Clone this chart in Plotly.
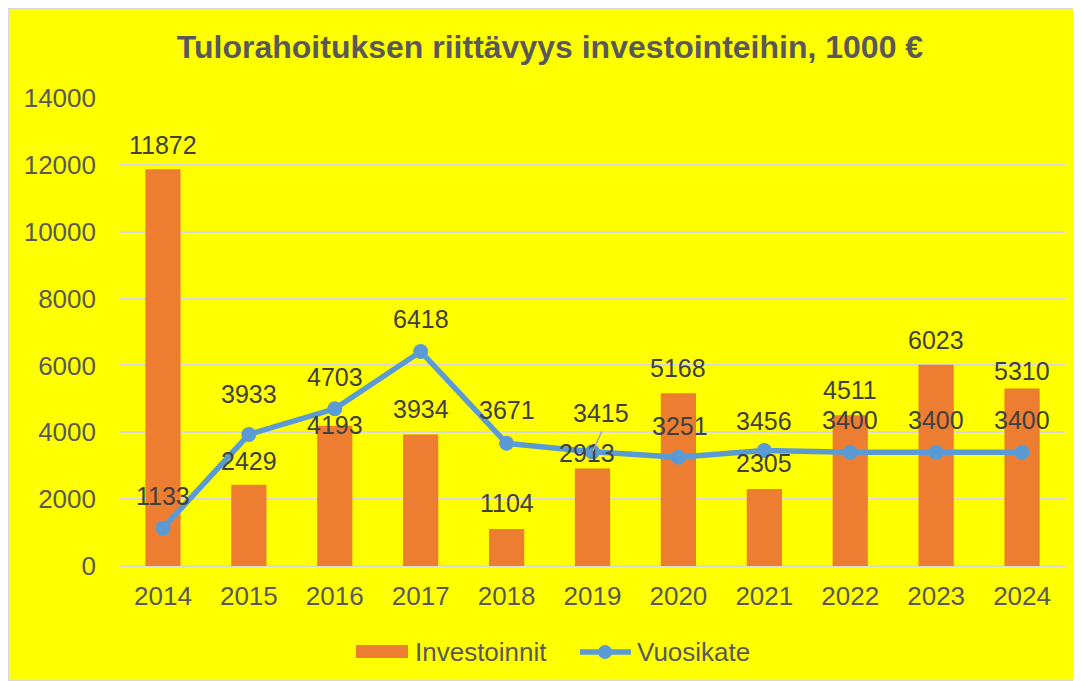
import plotly.graph_objects as go

years = [2014, 2015, 2016, 2017, 2018, 2019, 2020, 2021, 2022, 2023, 2024]
year_labels = ["2014", "2015", "2016", "2017", "2018", "2019", "2020", "2021", "2022", "2023", "2024"]
investoinnit = [11872, 2429, 4193, 3934, 1104, 2913, 5168, 2305, 4511, 6023, 5310]
vuosikate = [1133, 3933, 4703, 6418, 3671, 3415, 3251, 3456, 3400, 3400, 3400]
y_ticks = [0, 2000, 4000, 6000, 8000, 10000, 12000, 14000]
y_tick_labels = ["0", "2000", "4000", "6000", "8000", "10000", "12000", "14000"]
series_names = ["Investoinnit", "Vuosikate"]
title_text = "Tulorahoituksen riittävyys investointeihin, 1000 €"

# label placement (pixels above the value)
bar_label_shift = [24, 24, 1, 25, 26, 16, 25, 26, 25, 25, 17]
bar_label_xshift = [0, 0, 0, 0, 0, -6, 0, 0, 0, 0, 0]
line_label_shift = [32, 41, 32, 32, 33, 39, 31, 29, 32, 32, 32]
line_label_xshift = [0, 0, 0, 0, 0, 8, 2, 0, 0, 0, 0]

ORANGE = "#ED7D31"
BLUE = "#5B9BD5"
YELLOW = "#FFFF00"
TXT = "#404040"
AX = "#595959"
FONT = "Liberation Sans, Arial, sans-serif"

OFF = 8  # page body offset
W, H = 1081 - OFF, 681 - OFF
# plot area in screen pixels
SX0, SX1, SY0, SY1 = 120, 1065, 98, 566
ML, MT = SX0 - OFF, SY0 - OFF
MR, MB = W - (SX1 - OFF), H - (SY1 - OFF)
pw = W - ML - MR
ph = H - MT - MB

def px2x(sx):
    return (sx - OFF - ML) / pw

def py2y(sy):
    return 1 - (sy - OFF - MT) / ph

fig = go.Figure()
fig.add_trace(go.Bar(x=years, y=investoinnit, name=series_names[0],
                     marker=dict(color=ORANGE, line=dict(width=0))))
fig.add_trace(go.Scatter(x=years, y=vuosikate, name=series_names[1], mode="lines+markers",
                         line=dict(color=BLUE, width=5.5),
                         marker=dict(color=BLUE, size=15)))

ann = []
for i, yr in enumerate(years):
    ann.append(dict(x=yr, y=investoinnit[i], text=str(investoinnit[i]), showarrow=False,
                    yshift=bar_label_shift[i], xshift=bar_label_xshift[i],
                    font=dict(family=FONT, size=25, color=TXT)))
for i, yr in enumerate(years):
    ann.append(dict(x=yr, y=vuosikate[i], text=str(vuosikate[i]), showarrow=False,
                    yshift=line_label_shift[i], xshift=line_label_xshift[i],
                    font=dict(family=FONT, size=25, color=TXT)))

# leader line for the 2019 Vuosikate label
ann.append(dict(x=years[5], y=vuosikate[5], text="", showarrow=True, arrowhead=0,
                arrowwidth=1.5, arrowcolor="#A6A6A6", ax=10, ay=-22, standoff=1))

# custom legend
ann.append(dict(xref="paper", yref="paper", x=px2x(413), y=py2y(652), xanchor="left",
                yanchor="middle", text=series_names[0], showarrow=False,
                font=dict(family=FONT, size=26, color=AX)))
ann.append(dict(xref="paper", yref="paper", x=px2x(635), y=py2y(652), xanchor="left",
                yanchor="middle", text=series_names[1], showarrow=False,
                font=dict(family=FONT, size=26, color=AX)))

shapes = [
    dict(type="rect", xref="paper", yref="paper",
         x0=px2x(OFF + 0.5), x1=px2x(1080.5), y0=py2y(680.5), y1=py2y(OFF + 0.5),
         fillcolor="rgba(0,0,0,0)", line=dict(color="#D9D9D9", width=1.5)),
    dict(type="rect", xref="paper", yref="paper",
         x0=px2x(356), x1=px2x(408), y0=py2y(658), y1=py2y(645),
         fillcolor=ORANGE, line=dict(width=0)),
    dict(type="line", xref="paper", yref="paper",
         x0=px2x(580), x1=px2x(631), y0=py2y(652), y1=py2y(652),
         line=dict(color=BLUE, width=5.5)),
    dict(type="circle", xref="paper", yref="paper",
         x0=px2x(598), x1=px2x(612), y0=py2y(659), y1=py2y(645),
         fillcolor=BLUE, line=dict(width=0)),
]

fig.update_layout(
    width=W, height=H,
    margin=dict(l=ML, r=MR, t=MT, b=MB, autoexpand=False),
    paper_bgcolor=YELLOW, plot_bgcolor=YELLOW,
    font=dict(family=FONT, color=AX),
    title=dict(text="<b>" + title_text + "</b>",
               x=px2x(550), xref="paper", xanchor="center",
               y=1 - (47 - OFF) / H, yref="container", yanchor="middle",
               font=dict(family=FONT, size=32, color=AX)),
    bargap=0.59,
    showlegend=False,
    xaxis=dict(range=[2013.5, 2024.5], tickvals=years, ticktext=year_labels,
               showgrid=False, showline=False, ticks="", zeroline=False,
               tickfont=dict(family=FONT, size=26, color=AX), ticklabelstandoff=12,
               automargin=False),
    yaxis=dict(range=[0, 14000], tickvals=y_ticks, ticktext=y_tick_labels,
               showgrid=True, gridcolor="#D9D9D9",
               gridwidth=1.5, zeroline=True, zerolinecolor="#D9D9D9", zerolinewidth=1.5,
               showline=False, ticks="", tickfont=dict(family=FONT, size=26, color=AX),
               ticklabelstandoff=23, automargin=False),
    annotations=ann,
    shapes=shapes,
)

fig.write_html("out.html")
